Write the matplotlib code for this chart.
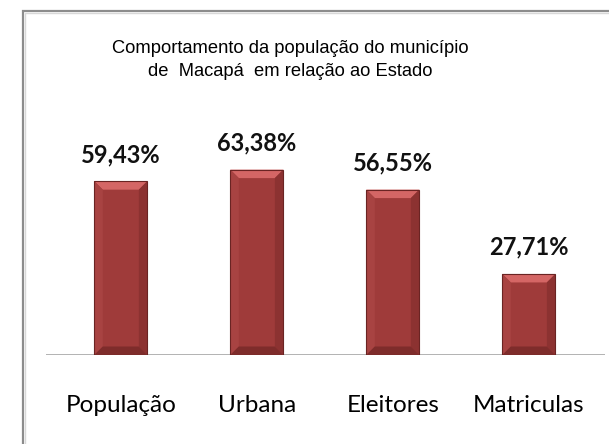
import matplotlib.pyplot as plt
from matplotlib.patches import Rectangle, Polygon

# data
categories = ['População', 'Urbana', 'Eleitores', 'Matriculas']
values = [59.43, 63.38, 56.55, 27.71]
labels = ['59,43%', '63,38%', '56,55%', '27,71%']

title = 'Comportamento da população do município\nde  Macapá  em relação ao Estado'

W, H = 609, 444
fig = plt.figure(figsize=(W / 100, H / 100), dpi=100)
fig.patch.set_facecolor('white')

# outer frame of the chart area (runs off the right and bottom edges)
fig.patches.append(Rectangle((23 / W, -0.1), 1.0, (H - 11) / H + 0.1,
                             transform=fig.transFigure, fill=False,
                             edgecolor='#8c8c8c', linewidth=1.6))
fig.patches.append(Rectangle((25 / W, -0.1), 1.0, (H - 13) / H + 0.1,
                             transform=fig.transFigure, fill=False,
                             edgecolor='#d8d8d8', linewidth=1.0))

ax = fig.add_axes([46 / W, (H - 355) / H, (605 - 46) / W, 292.5 / H])
ax.set_xlim(-0.55, 3.56)
ax.set_ylim(0, 100)
ax.axis('off')
ax.axhline(0, color='#a6a6a6', linewidth=1.2, zorder=1)

x = range(len(categories))
bw = 0.39
bars = ax.bar(x, values, width=bw, color='#9f3b3a', edgecolor='none', zorder=2)

# bevel shading on each bar, derived from the bar geometry
for b in bars:
    x0, w, h = b.get_x(), b.get_width(), b.get_height()
    dx = w * 0.16
    dy = dx * 136 / 2.925  # keep bevel square in pixels
    x1 = x0 + w
    ax.add_patch(Polygon([(x0, h), (x1, h), (x1 - dx, h - dy), (x0 + dx, h - dy)],
                         closed=True, facecolor='#d46665', edgecolor='none', zorder=3))
    ax.add_patch(Polygon([(x1, h), (x1, 0), (x1 - dx, dy), (x1 - dx, h - dy)],
                         closed=True, facecolor='#8c3231', edgecolor='none', zorder=3))
    ax.add_patch(Polygon([(x0, h), (x0, 0), (x0 + dx, dy), (x0 + dx, h - dy)],
                         closed=True, facecolor='#a84342', edgecolor='none', zorder=3))
    ax.add_patch(Polygon([(x0, 0), (x1, 0), (x1 - dx, dy), (x0 + dx, dy)],
                         closed=True, facecolor='#7e2c2b', edgecolor='none', zorder=3))
    ax.add_patch(Rectangle((x0, 0), w, h, fill=False, edgecolor='#6a2423',
                           linewidth=0.8, zorder=4))

for xi, v, lab in zip(x, values, labels):
    ax.annotate(lab, (xi, v), xytext=(0, 13.8), textcoords='offset points',
                ha='center', va='baseline', fontsize=17, fontweight='bold',
                family='Lato', color='#111111')
    ax.text(xi, -19.5, categories[xi], ha='center', va='baseline',
            fontsize=17.5, family='Lato', color='#000000')

fig.text(290 / W, 1 - 60 / H, title, ha='center', va='center',
         fontsize=13.2, family='Liberation Sans', linespacing=1.5, color='#000000')

fig.savefig('out.png', dpi=100)
